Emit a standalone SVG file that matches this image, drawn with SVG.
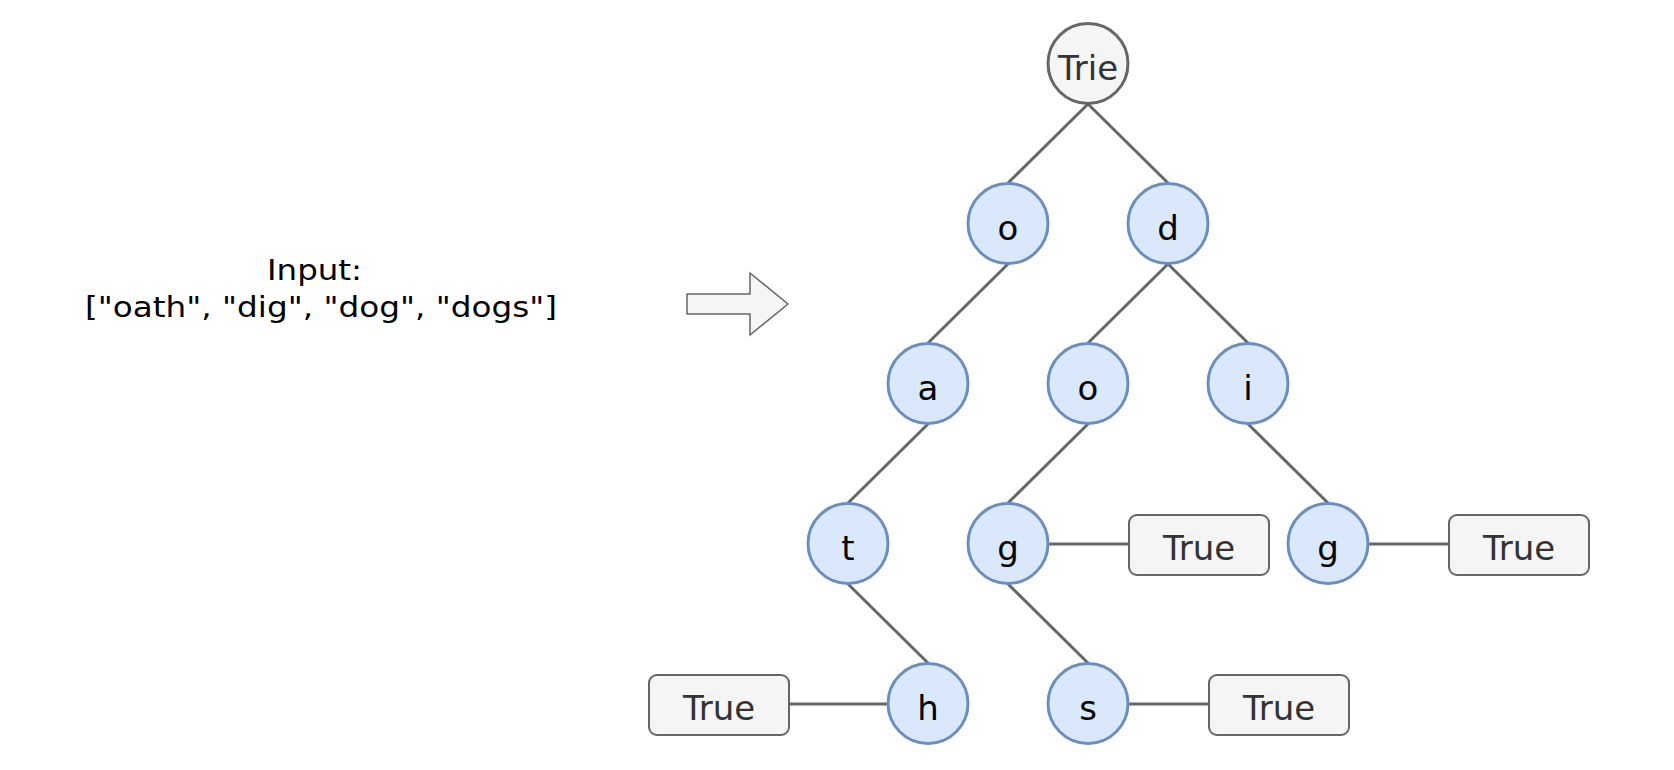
<svg xmlns="http://www.w3.org/2000/svg" width="1674" height="770" viewBox="0 0 1674 770">
  <style>
    .edge { stroke: #666666; stroke-width: 3; fill: none; }
    .node circle { fill: #dae8fc; stroke: #6c8ebf; stroke-width: 3; }
    .node text { font-family: "Comic Sans MS", "DejaVu Sans", sans-serif; font-size: 34px; fill: #000000; text-anchor: middle; }
    .root circle { fill: #f5f5f5; stroke: #666666; stroke-width: 3; }
    .root text { font-family: "Comic Sans MS", "DejaVu Sans", sans-serif; font-size: 34px; fill: #333333; text-anchor: middle; }
    .box rect { fill: #f5f5f5; stroke: #666666; stroke-width: 2; }
    .box text { font-family: "Comic Sans MS", "DejaVu Sans", sans-serif; font-size: 34px; fill: #333333; text-anchor: middle; }
    .label { font-family: "Comic Sans MS", "DejaVu Sans", sans-serif; font-size: 28px; fill: #000000; }
  </style>
  <rect width="1674" height="770" fill="#ffffff"/>

  <g id="input-label">
    <text class="label" x="267" y="280" textLength="95" lengthAdjust="spacingAndGlyphs">Input:</text>
    <text class="label" x="85" y="317" textLength="472" lengthAdjust="spacingAndGlyphs">["oath", "dig", "dog", "dogs"]</text>
  </g>

  <g id="arrow">
    <polygon points="687,294 750,294 750,273 788,304 750,335 750,314 687,314" fill="#f5f5f5" stroke="#666666" stroke-width="1.5"/>
  </g>

  <g id="connectors">
    <line class="edge" x1="1088" y1="104" x2="1008" y2="183"/>
    <line class="edge" x1="1088" y1="104" x2="1168" y2="183"/>
    <line class="edge" x1="1008" y1="264" x2="928" y2="343"/>
    <line class="edge" x1="1168" y1="264" x2="1088" y2="343"/>
    <line class="edge" x1="1168" y1="264" x2="1248" y2="343"/>
    <line class="edge" x1="928" y1="424" x2="848" y2="503"/>
    <line class="edge" x1="1088" y1="424" x2="1008" y2="503"/>
    <line class="edge" x1="1248" y1="424" x2="1328" y2="503"/>
    <line class="edge" x1="848" y1="584" x2="928" y2="663"/>
    <line class="edge" x1="1008" y1="584" x2="1088" y2="663"/>
    <line class="edge" x1="789" y1="704" x2="888" y2="704"/>
    <line class="edge" x1="1048" y1="544" x2="1129" y2="544"/>
    <line class="edge" x1="1368" y1="544" x2="1449" y2="544"/>
    <line class="edge" x1="1128" y1="704" x2="1209" y2="704"/>
  </g>

  <g id="node-trie" class="root"><circle cx="1088" cy="63.5" r="40"/><text x="1088" y="80">Trie</text></g>
  <g id="node-o1" class="node"><circle cx="1008" cy="223.5" r="40"/><text x="1008" y="240">o</text></g>
  <g id="node-d" class="node"><circle cx="1168" cy="223.5" r="40"/><text x="1168" y="240">d</text></g>
  <g id="node-a" class="node"><circle cx="928" cy="383.5" r="40"/><text x="928" y="400">a</text></g>
  <g id="node-o2" class="node"><circle cx="1088" cy="383.5" r="40"/><text x="1088" y="400">o</text></g>
  <g id="node-i" class="node"><circle cx="1248" cy="383.5" r="40"/><text x="1248" y="400">i</text></g>
  <g id="node-t" class="node"><circle cx="848" cy="543.5" r="40"/><text x="848" y="560">t</text></g>
  <g id="node-g1" class="node"><circle cx="1008" cy="543.5" r="40"/><text x="1008" y="560">g</text></g>
  <g id="node-g2" class="node"><circle cx="1328" cy="543.5" r="40"/><text x="1328" y="560">g</text></g>
  <g id="node-h" class="node"><circle cx="928" cy="703.5" r="40"/><text x="928" y="720">h</text></g>
  <g id="node-s" class="node"><circle cx="1088" cy="703.5" r="40"/><text x="1088" y="720">s</text></g>

  <g id="true-h" class="box"><rect x="649" y="675" width="140" height="60" rx="8"/><text x="719" y="720">True</text></g>
  <g id="true-g1" class="box"><rect x="1129" y="515" width="140" height="60" rx="8"/><text x="1199" y="560">True</text></g>
  <g id="true-g2" class="box"><rect x="1449" y="515" width="140" height="60" rx="8"/><text x="1519" y="560">True</text></g>
  <g id="true-s" class="box"><rect x="1209" y="675" width="140" height="60" rx="8"/><text x="1279" y="720">True</text></g>
</svg>
